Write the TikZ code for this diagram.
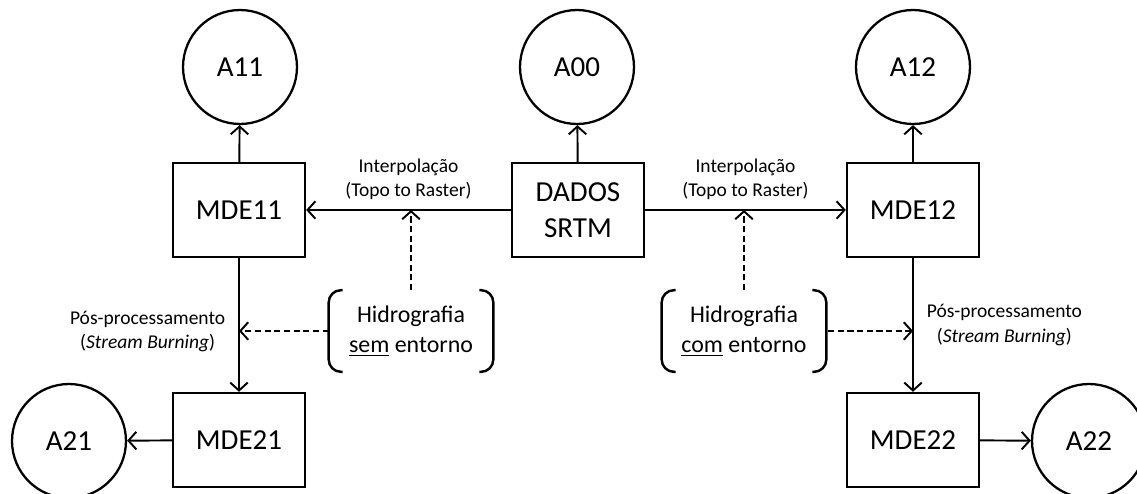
\documentclass[tikz,border=0pt]{standalone}
\usepackage{fontspec}
\setmainfont{Carlito}
\usetikzlibrary{arrows.meta}
\begin{document}
\begin{tikzpicture}[x=0.02cm, y=-0.02cm, >={Straight Barb[length=4.5pt,width=10pt]},
    box/.style={draw, line width=1.4pt, minimum width=2.64cm, minimum height=1.88cm,
        align=center, font=\fontsize{16.5}{20.4}\selectfont},
    circ/.style={draw, circle, line width=1.3pt, minimum size=2.28cm, inner sep=0pt,
        font=\fontsize{16.5}{20}\selectfont},
    lbl/.style={align=center, font=\fontsize{11.1}{13.8}\selectfont},
    hidro/.style={align=center, minimum width=3.28cm, minimum height=1.62cm, inner sep=0pt,
        font=\fontsize{13.6}{17.5}\selectfont},
    link/.style={line width=1.1pt},
    dash link/.style={line width=1.1pt, dash pattern=on 3.5pt off 2pt}]
    \useasboundingbox (0,0) rectangle (1137,494);

    % Results on top row
    \node[circ] (a11) at (240,67) {A11};
    \node[circ] (a00) at (577,67) {A00};
    \node[circ] (a12) at (913,67) {A12};

    % Elevation models
    \node[box] (mde11) at (239,210) {MDE11};
    \node[box] (srtm) at (578,210) {DADOS\\SRTM};
    \node[box] (mde12) at (913,210) {MDE12};
    \node[box] (mde21) at (239,440) {MDE21};
    \node[box] (mde22) at (913,440) {MDE22};

    % Results on bottom row
    \node[circ] (a21) at (69,441) {A21};
    \node[circ] (a22) at (1089,441) {A22};

    % Hydrography inputs, set in brackets
    \node[hidro] (hsem) at (411,331) {Hidrografia\\\underline{sem} entorno};
    \node[hidro] (hcom) at (744,331) {Hidrografia\\\underline{com} entorno};
    \foreach \h in {hsem, hcom} {
        \draw[line width=1.4pt, rounded corners=7pt] ([xshift=0.28cm]\h.north west) -- (\h.north west)
            -- (\h.south west) -- ([xshift=0.28cm]\h.south west);
        \draw[line width=1.4pt, rounded corners=7pt] ([xshift=-0.28cm]\h.north east) -- (\h.north east)
            -- (\h.south east) -- ([xshift=-0.28cm]\h.south east);
    }

    % Arrows to the results
    \draw[link,->] (mde11) -- (a11);
    \draw[link,->] (srtm) -- (a00);
    \draw[link,->] (mde12) -- (a12);
    \draw[link,->] (mde21) -- (a21);
    \draw[link,->] (mde22) -- (a22);

    % Interpolation
    \draw[link,->] (srtm) -- node[lbl, above=2pt] {Interpolação\\(Topo to Raster)} (mde11);
    \draw[link,->] (srtm) -- node[lbl, above=2pt] {Interpolação\\(Topo to Raster)} (mde12);

    % Post-processing
    \draw[link,->] (mde11) -- node[lbl, left=4pt, pos=0.55] {Pós-processamento\\(\textit{Stream Burning})} (mde21);
    \draw[link,->] (mde12) -- node[lbl, right=4pt] {Pós-processamento\\(\textit{Stream Burning})} (mde22);

    % Hydrography used by each step
    \draw[dash link,->] (hsem.north) -- (hsem.north |- srtm.west);
    \draw[dash link,->] (hsem.west) -- (hsem.west -| mde11.south);
    \draw[dash link,->] (hcom.north) -- (hcom.north |- srtm.east);
    \draw[dash link,->,shorten <=1pt] (hcom.east) -- (hcom.east -| mde12.south);
\end{tikzpicture}
\end{document}
